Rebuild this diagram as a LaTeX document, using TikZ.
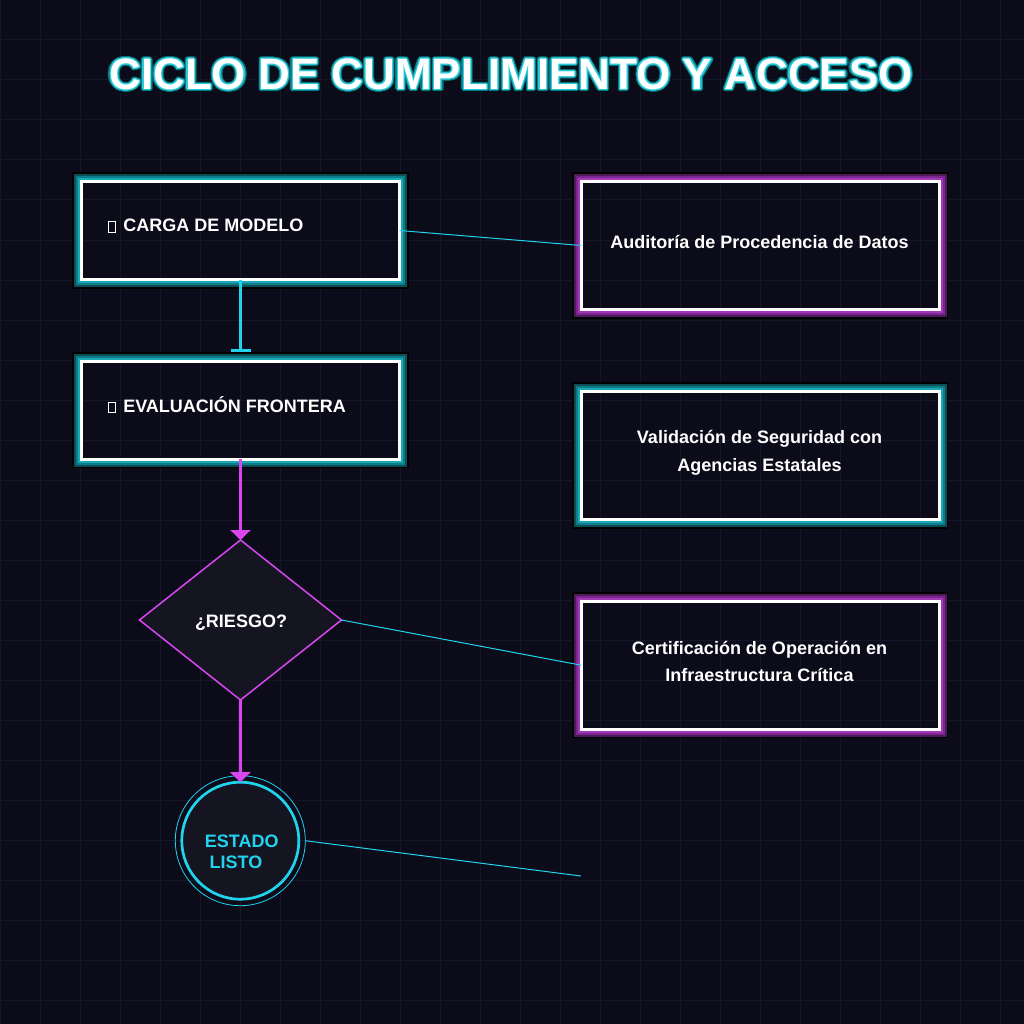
\documentclass[tikz,border=0pt]{standalone}
\usepackage{fontspec}
\setmainfont{Liberation Sans}
\usetikzlibrary{shapes.geometric,arrows.meta}
\definecolor{bg}{HTML}{0B0B1A}
\definecolor{gridc}{HTML}{16162A}
\definecolor{shapefill}{HTML}{151522}
\definecolor{cyanc}{HTML}{22D3EE}
\definecolor{magc}{HTML}{D946EF}
\definecolor{tealA}{HTML}{18A8B8}
\definecolor{tealB}{HTML}{0F7D89}
\definecolor{tealC}{HTML}{0A4F57}
\definecolor{purA}{HTML}{A338B8}
\definecolor{purB}{HTML}{7C2690}
\definecolor{purC}{HTML}{4E1A5C}
\definecolor{tdark}{HTML}{03181C}
\definecolor{tmid}{HTML}{0D7580}
\definecolor{tbright}{HTML}{27C8D8}
\newcommand{\tofubox}{{\setlength{\fboxrule}{0.7pt}\setlength{\fboxsep}{0pt}\fbox{\rule{0pt}{9.8pt}\rule{6.6pt}{0pt}}}}
\newcommand{\neonglow}[4]{%
  \foreach \o/\w/\c in {8.3/1.7/black, 6.5/2/#4, 4.5/2/#3, 2.5/2/#2} {
    \draw[\c, line width=\w pt] ([shift={(-\o,-\o)}]#1.north west) rectangle ([shift={(\o,\o)}]#1.south east);
  }}
\begin{document}
\begin{tikzpicture}[x=1pt,y=-1pt,
  nbox/.style={rectangle, draw=white, line width=3pt, inner sep=0pt, outer sep=0pt},
  lbl/.style={text=white, font=\bfseries\fontsize{18}{27.7}\selectfont, inner sep=0pt, align=center},
  ttl/.style={font=\bfseries\fontsize{44}{50}\selectfont, inner sep=0pt, anchor=base},
  flow/.style={line width=3pt},
  thin/.style={cyanc, line width=1pt}]
\useasboundingbox (0,0) rectangle (1024,1024);
\fill[bg] (0,0) rectangle (1024,1024);
\foreach \i in {0,40,...,1000} {
  \draw[gridc, line width=1pt] (\i,0) -- (\i,1024);
  \draw[gridc, line width=1pt] (0,\i) -- (1024,\i);
}
% title
\foreach \a in {0,20,...,340} {
  \node[ttl, text=tdark, shift={(\a:3.3)}] (tgd\a) at (511,89.5) {CICLO DE CUMPLIMIENTO Y ACCESO};
}
\foreach \a in {0,20,...,340} {
  \node[ttl, text=tmid, shift={(\a:2.3)}] (tgm\a) at (511,89.5) {CICLO DE CUMPLIMIENTO Y ACCESO};
}
\foreach \a in {0,30,...,330} {
  \node[ttl, text=tbright, shift={(\a:1.1)}] (tgb\a) at (511,89.5) {CICLO DE CUMPLIMIENTO Y ACCESO};
}
\node[ttl, text=white] (title) at (511,89.5) {CICLO DE CUMPLIMIENTO Y ACCESO};

% left boxes
\node[nbox, minimum width=318pt, minimum height=98pt] (b1) at (240.5,230.5) {};
\node[nbox, minimum width=318pt, minimum height=98pt] (b2) at (240.5,410.3) {};
\neonglow{b1}{tealA}{tealB}{tealC}
\neonglow{b2}{tealA}{tealB}{tealC}
\node[lbl, anchor=base west] (t1) at (107.7,231.7) {\tofubox\hspace{7.4pt}CARGA DE MODELO};
\node[lbl, anchor=base west] (t2) at (107.7,412.3) {\tofubox\hspace{7.4pt}EVALUACIÓN FRONTERA};

% right boxes
\node[nbox, minimum width=358pt, minimum height=128pt] (ba) at (760.3,245.5) {};
\node[nbox, minimum width=358pt, minimum height=128pt] (bb) at (760.3,455.4) {};
\node[nbox, minimum width=358pt, minimum height=128pt] (bc) at (760.3,665.2) {};
\neonglow{ba}{purA}{purB}{purC}
\neonglow{bb}{tealA}{tealB}{tealC}
\neonglow{bc}{purA}{purB}{purC}
\node[lbl, anchor=base] (ta) at (759.5,248.3) {Auditoría de Procedencia de Datos};
\node[lbl] (tb) at (759.5,453.1) {Validación de Seguridad con\\Agencias Estatales};
\node[lbl] (tc) at (759.5,661.6) {Certificación de Operación en\\Infraestructura Crítica};

% decision
\node[diamond, draw=magc, line width=1.5pt, fill=shapefill, minimum width=202pt, minimum height=160pt, aspect=1.26, inner sep=0pt, outer sep=0pt] (risk) at (240.5,620) {};
\node[lbl, anchor=base] (riskt) at (241,627.3) {¿RIESGO?};

% end state
\node[circle, draw=cyanc, line width=2.7pt, fill=shapefill, minimum size=117pt, inner sep=0pt, outer sep=0pt] (done) at (240.3,840.7) {};
\draw[cyanc, line width=0.8pt] (done.center) circle[radius=65pt];
\node[lbl, text=cyanc, anchor=base west] (d1) at (204.7,847) {ESTADO};
\node[lbl, text=cyanc, anchor=base west] (d2) at (209.4,868) {LISTO};
\coordinate (dend) at (581,876);

% connectors
\draw[flow, cyanc, -{Bar[width=20pt,line width=2.4pt]}] (b1.south) -- ([yshift=9.5pt]b2.north);
\draw[flow, magc, -{Triangle[width=20pt,length=10pt]}] (b2.south) -- (risk.north);
\draw[flow, magc, -{Triangle[width=20pt,length=10pt]}] (risk.south) -- (done.north);
\draw[thin] (b1.east) -- (ba.west);
\draw[thin] (risk.east) -- (bc.west);
\draw[thin] ([xshift=6.5pt]done.east) -- (dend);
\end{tikzpicture}
\end{document}
